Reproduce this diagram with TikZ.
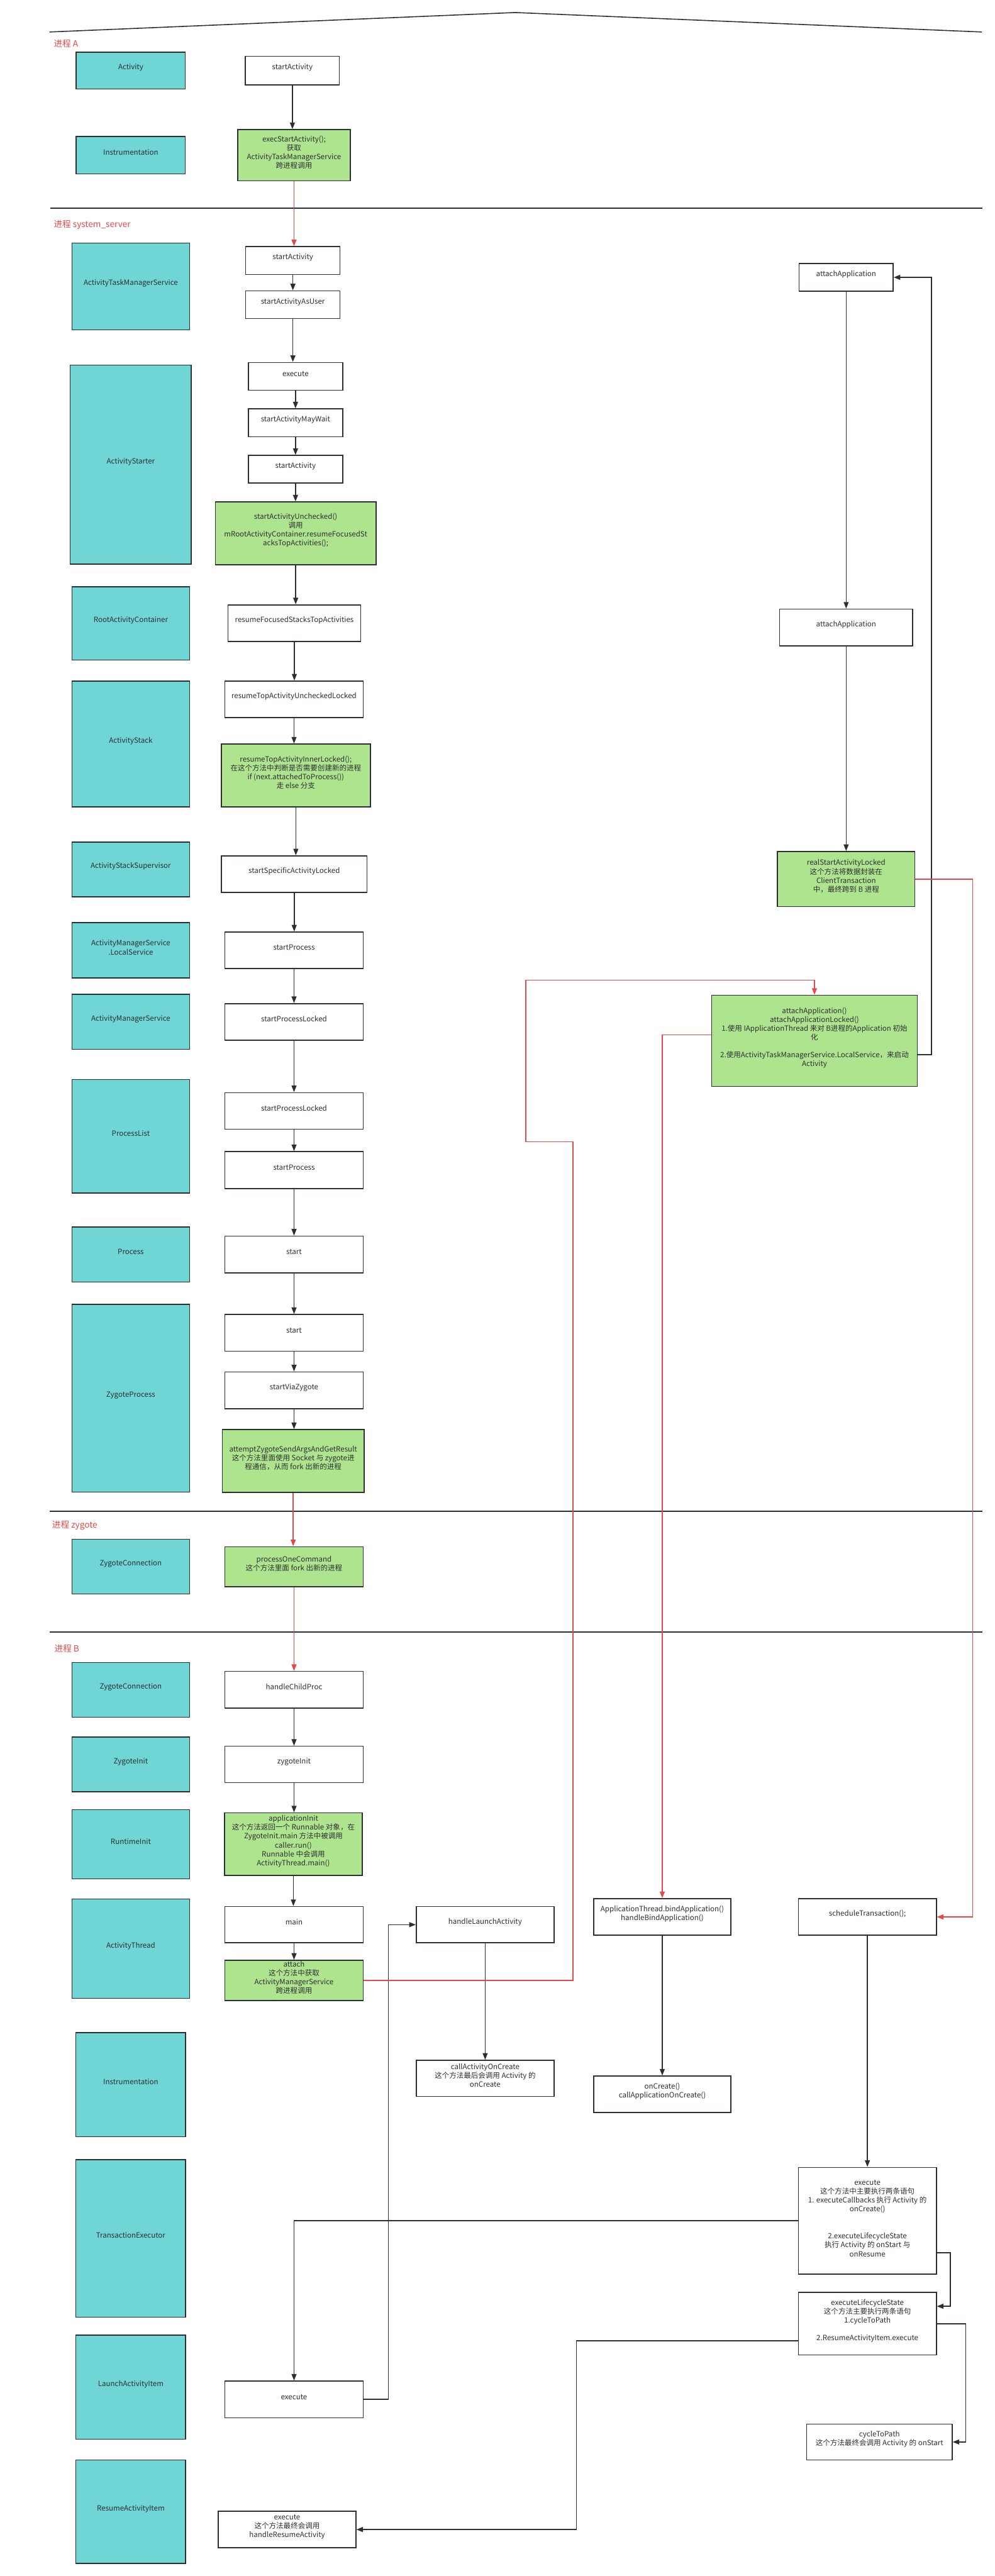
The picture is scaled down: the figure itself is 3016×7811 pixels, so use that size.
\documentclass[tikz,border=0pt]{standalone}
\usepackage{fontspec}
\setmainfont{Noto Sans CJK SC}
\usetikzlibrary{arrows.meta,fit}
\definecolor{ink}{HTML}{2B2F33}
\definecolor{classfill}{HTML}{6FD5D5}
\definecolor{leaf}{HTML}{AFE48F}
\definecolor{alert}{HTML}{E24A4A}

\begin{document}
\begin{tikzpicture}[
 x=1pt,y=-1pt,
 clsbox/.style={draw=ink,line width=3pt,fill=classfill,inner sep=0pt,align=center,text=ink,font=\fontsize{22}{27}\selectfont},
 callbox/.style={draw=ink,line width=3pt,fill=white,inner sep=0pt,align=center,text=ink,font=\fontsize{22}{27}\selectfont},
 keybox/.style={callbox,fill=leaf},
 arr/.style={-{Triangle[length=20pt,width=15pt]},line width=3pt,draw=ink},
 redarr/.style={arr,draw=alert},
 divider/.style={line width=4pt,draw=ink},
 proclabel/.style={anchor=west,inner sep=0pt,text=alert,font=\fontsize{26}{30}\selectfont}
]
\useasboundingbox (0,0) rectangle (3016,7811);
\draw[divider,line width=3pt] (150,97) -- (1562,38) -- (2977,97);

% process A
\node[proclabel] (labA) at (163,132) {进程 A};
\node[clsbox,fit={(231,158) (562,270)}] (clsActivity) {Activity};
\node[clsbox,fit={(231,414) (562,527)}] (clsInstrA) {Instrumentation};
\node[callbox,fit={(744,171) (1029,257)}] (aStart) {startActivity};
\node[keybox,fit={(721,393) (1062,548)}] (aExec) {execStartActivity();\\获取\\ActivityTaskManagerService\\跨进程调用};

% process system_server
\draw[divider] (153,631) -- (2979,631);
\node[proclabel] (labServer) at (163,681) {进程 system\_server};
\node[clsbox,fit={(218,737) (575,1000)}] (clsAtms) {ActivityTaskManagerService};
\node[clsbox,fit={(213,1107) (580,1711)}] (clsStarter) {ActivityStarter};
\node[clsbox,fit={(218,1779) (575,2001)}] (clsRoot) {RootActivityContainer};
\node[clsbox,fit={(218,2065) (575,2447)}] (clsStack) {ActivityStack};
\node[clsbox,fit={(218,2553) (575,2719)}] (clsSuper) {ActivityStackSupervisor};
\node[clsbox,fit={(218,2798) (575,2965)}] (clsAmsLocal) {ActivityManagerService\\.LocalService};
\node[clsbox,fit={(218,3015) (575,3182)}] (clsAms) {ActivityManagerService};
\node[clsbox,fit={(218,3273) (575,3617)}] (clsPlist) {ProcessList};
\node[clsbox,fit={(218,3720) (575,3887)}] (clsProc) {Process};
\node[clsbox,fit={(218,3955) (575,4524)}] (clsZproc) {ZygoteProcess};

\node[callbox,fit={(745,748) (1031,832)}] (sStart) {startActivity};
\node[callbox,fit={(745,882) (1031,966)}] (sAsUser) {startActivityAsUser};
\node[callbox,fit={(753,1099) (1039,1183)}] (sExecute) {execute};
\node[callbox,fit={(753,1240) (1039,1324)}] (sMayWait) {startActivityMayWait};
\node[callbox,fit={(753,1381) (1039,1465)}] (sStart2) {startActivity};
\node[keybox,fit={(653,1522) (1140,1712)}] (sUnchecked) {startActivityUnchecked()\\调用\\mRootActivityContainer.resumeFocusedSt\\acksTopActivities();};
\node[callbox,fit={(691,1834) (1094,1945)}] (sResumeFocused) {resumeFocusedStacksTopActivities};
\node[callbox,fit={(682,2065) (1101,2176)}] (sResumeTop) {resumeTopActivityUncheckedLocked};
\node[keybox,fit={(671,2256) (1123,2447)}] (sInner) {resumeTopActivityInnerLocked();\\在这个方法中判断是否需要创建新的进程\\if (next.attachedToProcess())\\走 else 分支};
\node[callbox,fit={(671,2595) (1113,2706)}] (sSpecific) {startSpecificActivityLocked};
\node[callbox,fit={(682,2826) (1101,2937)}] (sProcess) {startProcess};
\node[callbox,fit={(682,3043) (1101,3154)}] (sProcLocked) {startProcessLocked};
\node[callbox,fit={(682,3313) (1101,3424)}] (sProcLocked2) {startProcessLocked};
\node[callbox,fit={(682,3492) (1101,3604)}] (sProcess2) {startProcess};
\node[callbox,fit={(682,3748) (1101,3860)}] (sStartA) {start};
\node[callbox,fit={(682,3986) (1101,4097)}] (sStartB) {start};
\node[callbox,fit={(682,4160) (1101,4272)}] (sViaZygote) {startViaZygote};
\node[keybox,fit={(674,4335) (1104,4525)}] (sAttempt) {attemptZygoteSendArgsAndGetResult\\这个方法里面使用 Socket 与 zygote进\\程通信，从而 fork 出新的进程};

\node[callbox,fit={(2423,799) (2708,883)}] (sAttachApp) {attachApplication};
\node[callbox,fit={(2364,1847) (2767,1958)}] (sAttachApp2) {attachApplication};
\node[keybox,fit={(2357,2582) (2774,2749)}] (sRealStart) {realStartActivityLocked\\这个方法将数据封装在\\ClientTransaction\\中，最终跨到 B 进程};
\node[keybox,fit={(2158,3018) (2781,3294)}] (sAttachLocked) {attachApplication()\\attachApplicationLocked()\\1.使用 IApplicationThread 来对 B进程的Application 初始\\化\\[26pt]2.使用ActivityTaskManagerService.LocalService，来启动\\Activity};

% process zygote
\draw[divider] (150,4582) -- (2979,4582);
\node[proclabel] (labZygote) at (158,4626) {进程 zygote};
\node[clsbox,fit={(218,4667) (575,4833)}] (clsZconn) {ZygoteConnection};
\node[keybox,fit={(682,4690) (1101,4811)}] (zCommand) {processOneCommand\\这个方法里面 fork 出新的进程};

% process B
\draw[divider] (150,4948) -- (2979,4948);
\node[proclabel] (labB) at (165,4998) {进程 B};
\node[clsbox,fit={(218,5041) (575,5207)}] (clsZconnB) {ZygoteConnection};
\node[clsbox,fit={(218,5267) (575,5433)}] (clsZinit) {ZygoteInit};
\node[clsbox,fit={(218,5487) (575,5697)}] (clsRtInit) {RuntimeInit};
\node[clsbox,fit={(218,5758) (575,6059)}] (clsThread) {ActivityThread};
\node[clsbox,fit={(230,6163) (563,6479)}] (clsInstrB) {Instrumentation};
\node[clsbox,fit={(230,6548) (563,7026)}] (clsTxExec) {TransactionExecutor};
\node[clsbox,fit={(230,7081) (563,7396)}] (clsLaunchItem) {LaunchActivityItem};
\node[clsbox,fit={(230,7459) (563,7773)}] (clsResumeItem) {ResumeActivityItem};

\node[callbox,fit={(682,5068) (1101,5179)}] (bChild) {handleChildProc};
\node[callbox,fit={(682,5295) (1101,5405)}] (bZinit) {zygoteInit};
\node[keybox,fit={(681,5497) (1098,5687)}] (bAppInit) {applicationInit\\这个方法返回一个 Runnable 对象，在\\ZygoteInit.main 方法中被调用\\caller.run()\\Runnable 中会调用\\ActivityThread.main()};
\node[callbox,fit={(682,5781) (1101,5891)}] (bMain) {main};
\node[keybox,fit={(682,5944) (1101,6066)}] (bAttach) {attach\\这个方法中获取\\ActivityManagerService\\跨进程调用};
\node[callbox,fit={(682,7220) (1101,7331)}] (bLaunchExec) {execute};
\node[callbox,fit={(662,7615) (1079,7725)}] (bResumeExec) {execute\\这个方法最终会调用\\handleResumeActivity};

\node[callbox,fit={(1262,5781) (1680,5891)}] (bHandleLaunch) {handleLaunchActivity};
\node[callbox,fit={(1262,6247) (1680,6357)}] (bCallCreate) {callActivityOnCreate\\这个方法最后会调用 Activity 的\\onCreate};
\node[callbox,fit={(1800,5757) (2216,5868)}] (bBindApp) {ApplicationThread.bindApplication()\\handleBindApplication()};
\node[callbox,fit={(1800,6295) (2216,6405)}] (bOnCreate) {onCreate()\\callApplicationOnCreate()};
\node[callbox,fit={(2421,5757) (2839,5868)}] (bSchedule) {scheduleTransaction();};
\node[callbox,fit={(2421,6572) (2839,6896)}] (bTxExecute) {execute\\这个方法中主要执行两条语句\\1. executeCallbacks 执行 Activity 的\\onCreate()\\[55pt]2.executeLifecycleState\\执行 Activity 的 onStart 与\\onResume};
\node[callbox,fit={(2421,6951) (2839,7141)}] (bLifecycle) {executeLifecycleState\\这个方法主要执行两条语句\\1.cycleToPath\\[27pt]2.ResumeActivityItem.execute};
\node[callbox,fit={(2446,7350) (2887,7459)}] (bCycle) {cycleToPath\\这个方法最终会调用 Activity 的 onStart};

% calls inside one process
\draw[arr] (aStart) -- (aStart |- aExec.north);
\draw[arr] (sStart) -- (sStart |- sAsUser.north);
\draw[arr] (sAsUser) -- (sAsUser |- sExecute.north);
\draw[arr] (sExecute) -- (sExecute |- sMayWait.north);
\draw[arr] (sMayWait) -- (sMayWait |- sStart2.north);
\draw[arr] (sStart2) -- (sStart2 |- sUnchecked.north);
\draw[arr] (sUnchecked) -- (sUnchecked |- sResumeFocused.north);
\draw[arr] (sResumeFocused) -- (sResumeFocused |- sResumeTop.north);
\draw[arr] (sResumeTop) -- (sResumeTop |- sInner.north);
\draw[arr] (sInner) -- (sInner |- sSpecific.north);
\draw[arr] (sSpecific) -- (sSpecific |- sProcess.north);
\draw[arr] (sProcess) -- (sProcess |- sProcLocked.north);
\draw[arr] (sProcLocked) -- (sProcLocked |- sProcLocked2.north);
\draw[arr] (sProcLocked2) -- (sProcLocked2 |- sProcess2.north);
\draw[arr] (sProcess2) -- (sProcess2 |- sStartA.north);
\draw[arr] (sStartA) -- (sStartA |- sStartB.north);
\draw[arr] (sStartB) -- (sStartB |- sViaZygote.north);
\draw[arr] (sViaZygote) -- (sViaZygote |- sAttempt.north);
\draw[arr] (sAttachApp) -- (sAttachApp2);
\draw[arr] (sAttachApp2) -- (sRealStart);
\draw[arr] ([yshift=-42pt]sAttachLocked.east) -- ++(42,0) |- (sAttachApp.east);
\draw[arr] (bChild) -- (bChild |- bZinit.north);
\draw[arr] (bZinit) -- (bZinit |- bAppInit.north);
\draw[arr] (bAppInit) -- (bAppInit |- bMain.north);
\draw[arr] (bMain) -- (bMain |- bAttach.north);
\draw[arr] (bLaunchExec.east) -- ++(75,0) |- (bHandleLaunch.west);
\draw[arr] (bHandleLaunch) -- (bCallCreate);
\draw[arr] (bBindApp) -- (bOnCreate);
\draw[arr] (bSchedule) -- (bTxExecute);
\draw[arr] (bTxExecute.west) -| (bLaunchExec.north);
\draw[arr] ([yshift=-97pt]bTxExecute.east) -- ++(41,0) |- ([yshift=53pt]bLifecycle.east);
\draw[arr] (bLifecycle.east) -- ++(88,0) |- (bCycle.east);
\draw[arr] ([yshift=-52pt]bLifecycle.west) -- ++(-672,0) |- (bResumeExec.east);

% calls across processes
\draw[redarr] (aExec) -- (aExec |- sStart.north);
\draw[redarr] (sAttempt) -- (sAttempt |- zCommand.north);
\draw[redarr] (zCommand) -- (zCommand |- bChild.north);
\draw[redarr] (bAttach.east) -- (1737,6005) -- (1737,3462) -- (1594,3462) -- (1594,2972) -| (sAttachLocked.north);
\draw[redarr] ([yshift=18pt]sAttachLocked.west) -| (bBindApp.north);
\draw[redarr] (sRealStart.east) -- ++(174,0) |- (bSchedule.east);
\end{tikzpicture}
\end{document}
